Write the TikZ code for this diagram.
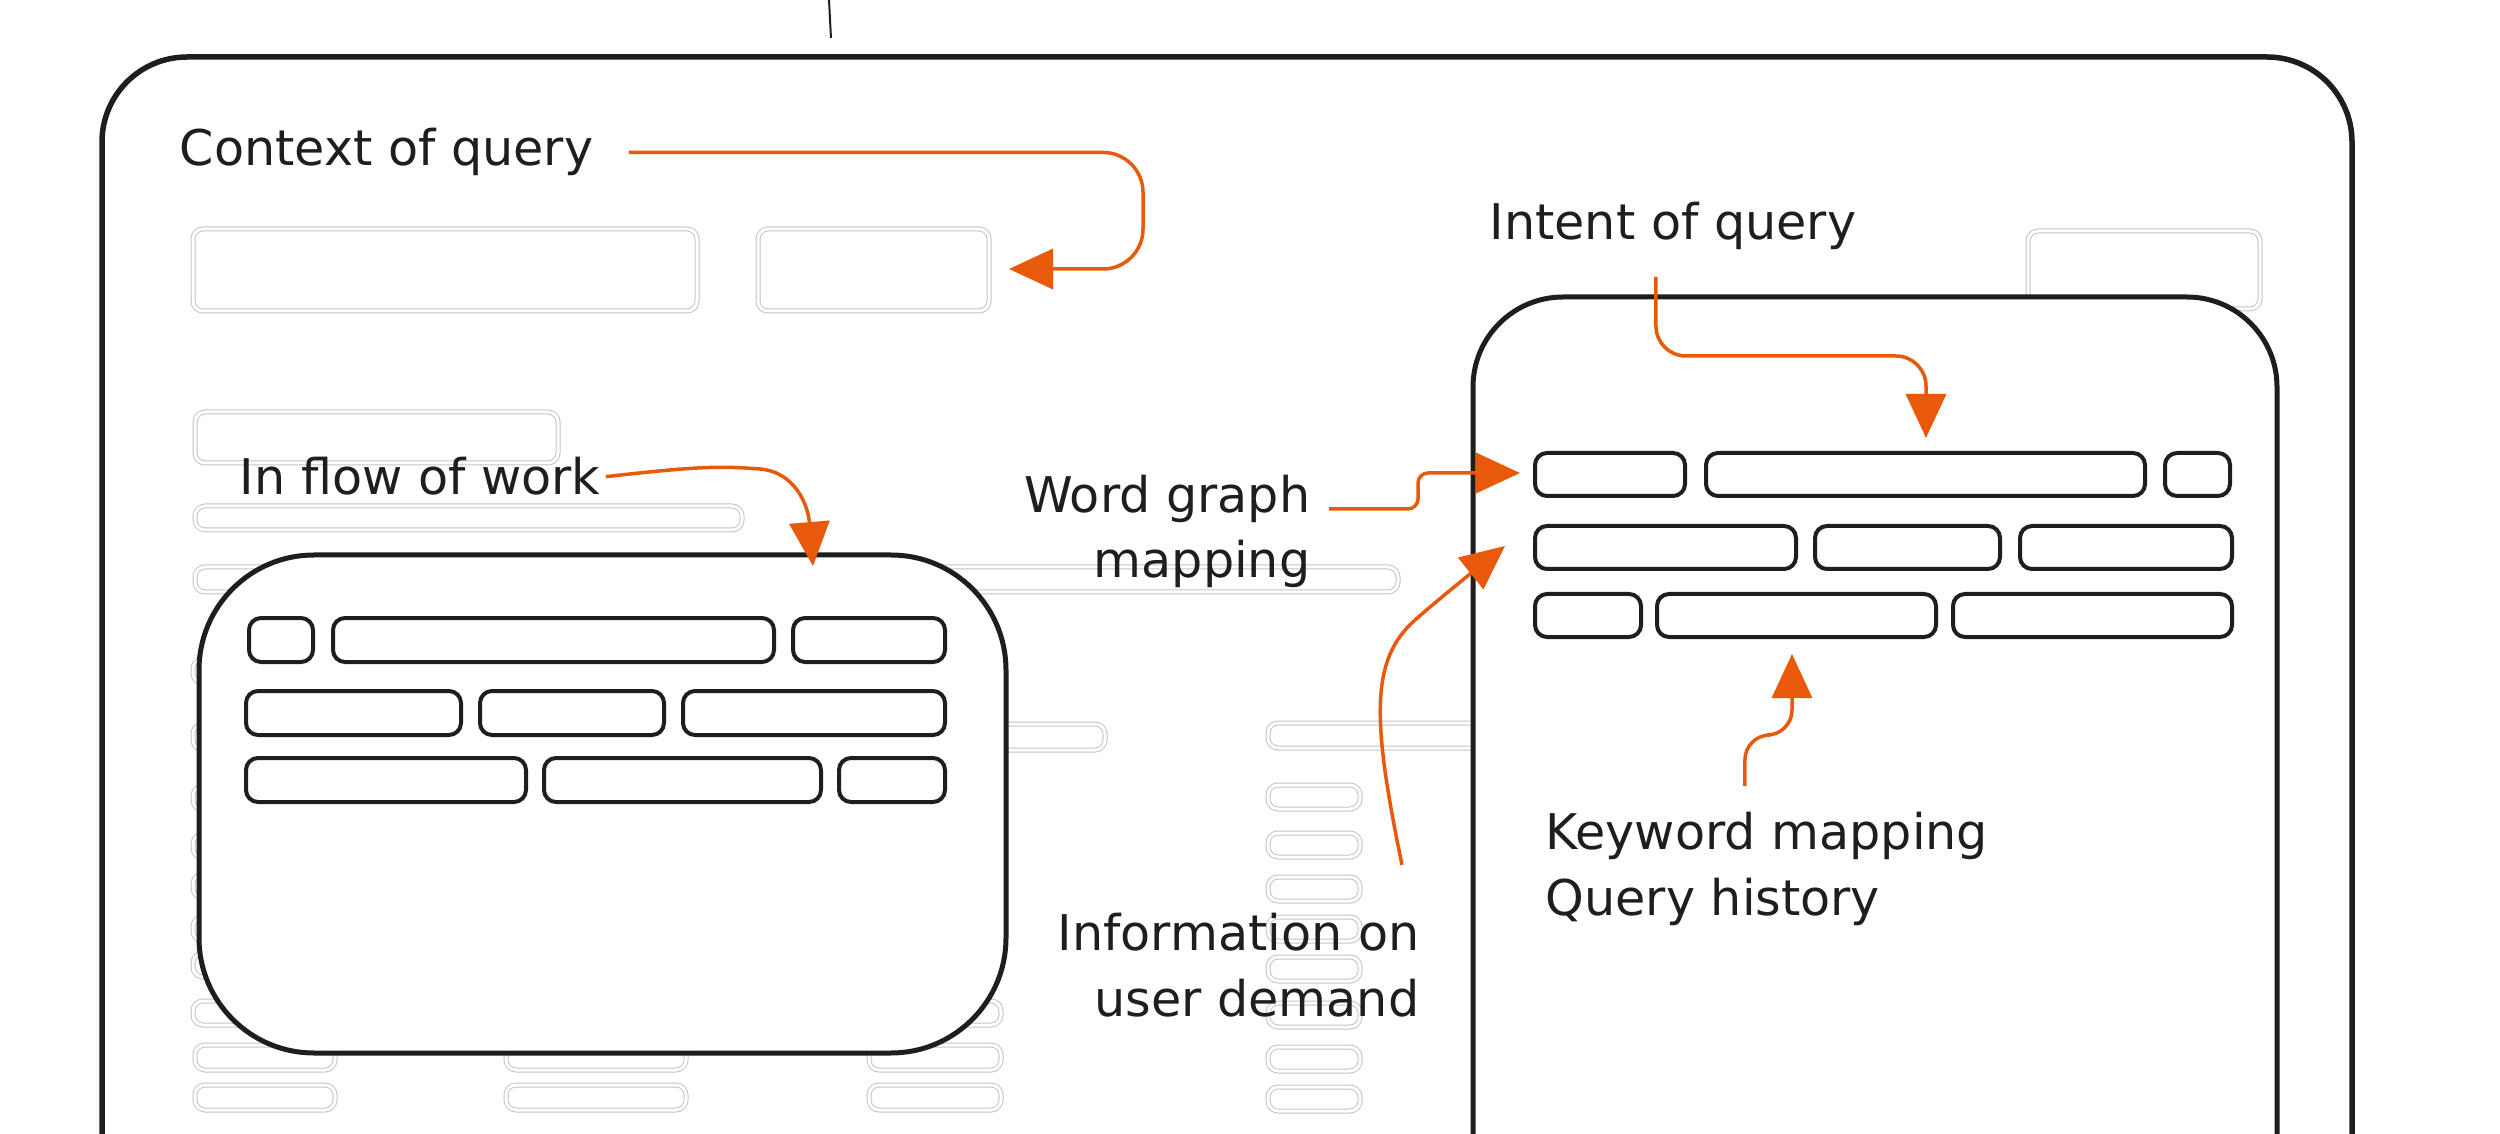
\documentclass[tikz,border=0pt]{standalone}
\usepackage{fontspec}
\setmainfont{DejaVu Sans}
\usetikzlibrary{arrows.meta}
\definecolor{xink}{HTML}{1E1E1E}
\definecolor{xorange}{HTML}{E8590C}
\definecolor{xghost}{HTML}{C4C4C4}

\begin{document}
\begin{tikzpicture}[x=0.1mm,y=-0.1mm,
  lbl/.style={font=\fontsize{14}{18.5}\selectfont,text=xink,inner sep=0pt},
  ghost/.style={draw=xghost,line width=0.1mm,double=white,double distance=0.3mm,rounded corners=1mm},
  slot/.style={draw=xink,line width=0.4mm,rounded corners=1.2mm},
  device/.style={draw=xink,fill=white,line width=0.5mm},
  arr/.style={draw=xorange,line width=0.35mm,-{Triangle[length=4.4mm,width=4mm]}}]
  \useasboundingbox (0,0) rectangle (2500,1134);
  % --- page frame
  \draw[xink,line width=0.2mm] (829,0) -- (831,38);
  \draw[xink,line width=0.55mm,rounded corners=8.5mm] (102,1140) -- (102,57) -- (2352,57) -- (2352,1140);
  % --- faint page layout behind the devices
  \foreach \xa/\ya/\xb/\yb in {193/229/697/311,758/229/989/311,2028/231/2260/309,195/412/558/463,
      195/506/742/530,195/567/1398/592,193/724/1105/750,1268/723/1480/748} {
    \draw[ghost] (\xa,\ya) rectangle (\xb,\yb);
  }
  \foreach \ya in {659,786,834,874,917,953,1001} \draw[ghost] (193,\ya) rectangle (1001,\ya+24);
  \foreach \ya in {785,833,877,917,957,1003,1047,1087} \draw[ghost] (1268,\ya) rectangle (1360,\ya+24);
  \foreach \ya in {1045,1085} \foreach \xa/\xb in {195/335,506/686,869/1001} {
    \draw[ghost] (\xa,\ya) rectangle (\xb,\ya+25);
  }
  % --- tablet
  \draw[device,rounded corners=11.5mm] (199,555) rectangle (1006,1053);
  \foreach \xa/\xb/\ya in {249/313/618,333/774/618,793/945/618,
      246/461/691,480/664/691,683/945/691,
      246/526/758,544/821/758,839/945/758} {
    \draw[slot] (\xa,\ya) rectangle (\xb,\ya+44);
  }
  % --- phone
  \draw[device,rounded corners=9mm] (1473,1140) -- (1473,297) -- (2277,297) -- (2277,1140);
  \foreach \xa/\xb/\ya in {1535/1685/453,1706/2145/453,2165/2230/453,
      1535/1796/526,1815/2000/526,2020/2232/526,
      1535/1641/594,1657/1936/594,1953/2232/594} {
    \draw[slot] (\xa,\ya) rectangle (\xb,\ya+43);
  }
  % --- labels (two-line ones sit on their last line)
  \node[lbl,anchor=base west] (ctx) at (179,166) {Context of query};
  \node[lbl,anchor=base west] (flow) at (239,495) {In flow of work};
  \node[lbl,anchor=base west] (intent) at (1489,240) {Intent of query};
  \node[lbl,anchor=base east,align=right] (wordgraph) at (1311,578) {Word graph\\mapping};
  \node[lbl,anchor=base east,align=right] (demand) at (1420,1016) {Information on\\user demand};
  \node[lbl,anchor=base west,align=left] (keyword) at (1545,915) {Keyword mapping\\Query history};
  % --- arrow tips
  \coordinate (ctxtip) at (1009,269);
  \coordinate (flowtip) at (813,566);
  \coordinate (intenttip) at (1926,438);
  \coordinate (wordtip) at (1520,473);
  \coordinate (demandtip) at (1505,546);
  \coordinate (keytip) at (1792,654);
  % --- arrows
  \draw[arr,rounded corners=4mm] ([xshift=3.5mm]ctx.east) -| (1143,269) -- (ctxtip);
  \draw[arr] ([xshift=0.5mm]flow.east) .. controls (700,466) and (720,466) .. (760,469)
    .. controls (795,472) and (808,505) .. (flowtip);
  \draw[arr,rounded corners=3mm] ([xshift=-1.7mm,yshift=-2.6mm]intent.south) |- (1926,356) -- (intenttip);
  \draw[arr,rounded corners=1mm] ([xshift=1.8mm,yshift=-3.4mm]wordgraph.north east) -| (1418,473) -- (wordtip);
  \draw[arr] ([xshift=-1.8mm,yshift=4.8mm]demand.north east) .. controls (1372,720) and (1370,660) .. (1415,620)
    .. controls (1440,598) and (1475,570) .. (demandtip);
  \draw[arr,rounded corners=2.5mm] ([xshift=-2.2mm,yshift=2.6mm]keyword.north) |- (1792,735) -- (keytip);
\end{tikzpicture}
\end{document}
